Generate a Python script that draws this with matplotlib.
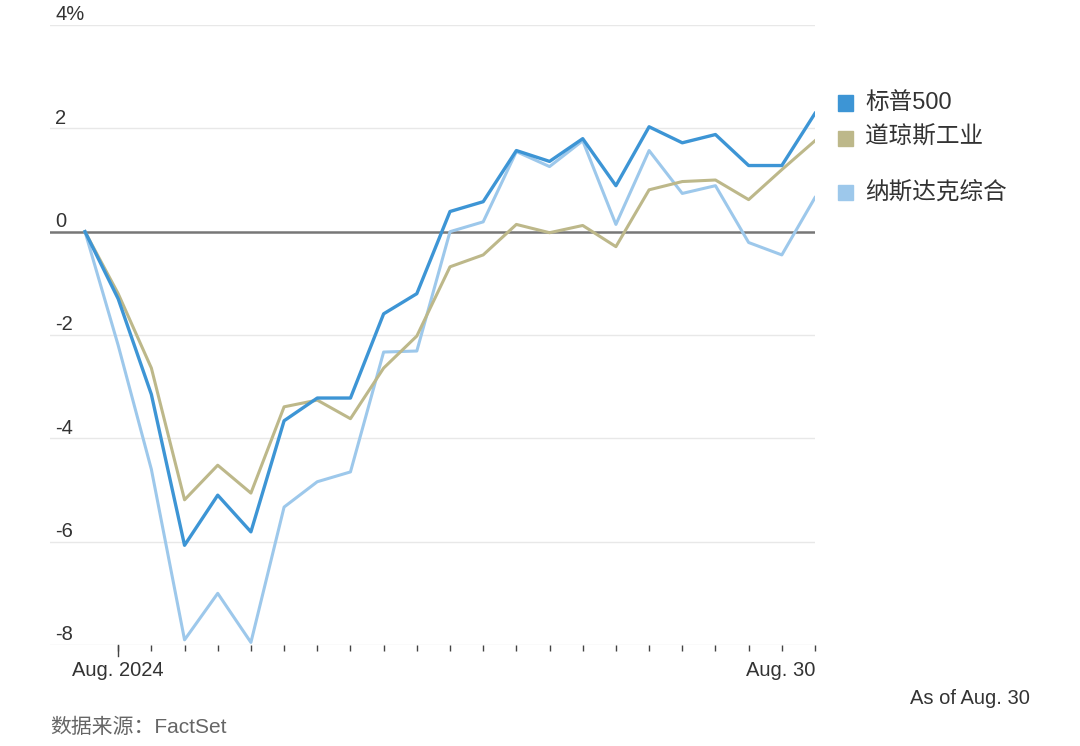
import matplotlib.pyplot as plt
from matplotlib.transforms import blended_transform_factory
import numpy as np

plt.rcParams['font.family'] = ['Liberation Sans', 'Noto Sans CJK SC', 'DejaVu Sans']

# trading days: Jul 31 base + 22 sessions in August 2024
days = np.arange(23)
spx = [0, -1.3, -3.15, -6.07, -5.1, -5.81, -3.66, -3.22, -3.22, -1.59, -1.2,
       0.39, 0.58, 1.57, 1.36, 1.80, 0.89, 2.03, 1.72, 1.88, 1.28, 1.28, 2.29]
dow = [0, -1.2, -2.64, -5.19, -4.52, -5.06, -3.39, -3.26, -3.62, -2.64, -2.02,
       -0.68, -0.45, 0.14, -0.02, 0.12, -0.29, 0.81, 0.97, 1.0, 0.62, 1.2, 1.76]
ndx = [0, -2.2, -4.6, -7.9, -7.0, -7.95, -5.33, -4.84, -4.65, -2.33, -2.31,
       0.0, 0.19, 1.55, 1.26, 1.76, 0.14, 1.57, 0.74, 0.89, -0.21, -0.45, 0.66]
names = ['标普500', '道琼斯工业', '纳斯达克综合']
colors = ['#3d95d5', '#bdb88a', '#9dc8eb']
yticks = [-8, -6, -4, -2, 0, 2, 4]
ylabels = ['-8', '-6', '-4', '-2', '0', '2', '4%']

fig = plt.figure(figsize=(10.8, 7.46), dpi=100)
ax = fig.add_axes([50/1080, 1 - 645/746, 765/1080, 620/746])
ax.set_xlim(-35/33.18, 22)
ax.set_ylim(-8, 4)

for y in yticks:
    if y == 0:
        ax.axhline(y, color='#777777', lw=1.8, zorder=2)
    else:
        ax.axhline(y, color='#e8e8e8', lw=1.0, zorder=1)

ax.plot(days, ndx, color=colors[2], lw=2.2, zorder=3)
ax.plot(days, dow, color=colors[1], lw=2.2, zorder=4)
ax.plot(days, spx, color=colors[0], lw=2.4, zorder=5)

for s in ax.spines.values():
    s.set_visible(False)
ax.set_yticks([])
ax.set_xticks(days[1:])
ax.set_xticklabels([])
ax.tick_params(axis='x', length=4, width=1, color='#444444', direction='out')
ax.plot([1, 1], [0, -0.018], transform=blended_transform_factory(ax.transData, ax.transAxes),
        color='#444444', lw=1, clip_on=False)

tr = blended_transform_factory(ax.transAxes, ax.transData)
for y, lab in zip(yticks, ylabels):
    ax.text(0.007, y + 0.09, lab, transform=tr, ha='left', va='baseline',
            fontsize=14.5, color='#333333')

trx = blended_transform_factory(ax.transData, ax.transAxes)
ax.text(1, -0.041, 'Aug. 2024', transform=trx, ha='center', va='center', fontsize=14.5, color='#333333')
ax.text(22, -0.041, 'Aug. 30', transform=trx, ha='right', va='center', fontsize=14.5, color='#333333')

# legend
for yy, name, c in zip([103, 138, 192], names, colors):
    fig.patches.append(plt.Rectangle((838/1080, 1 - (yy + 7.5)/746), 15/1080, 15/746,
                                     transform=fig.transFigure, color=c))
    fig.text(865/1080, 1 - yy/746, name, ha='left', va='center', fontsize=17, color='#333333')

fig.text(1030/1080, 1 - 698/746, 'As of Aug. 30', ha='right', va='center', fontsize=14.5, color='#333333')
fig.text(50/1080, 1 - 727/746, '数据来源：FactSet', ha='left', va='center', fontsize=15, color='#666666')

fig.savefig('out.png', dpi=100)
